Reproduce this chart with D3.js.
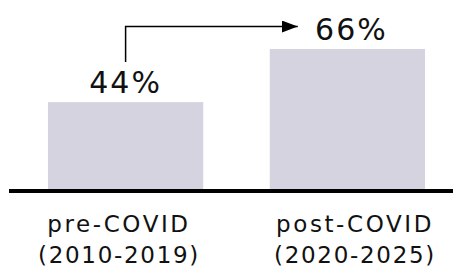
<!DOCTYPE html>
<html>
<head>
<meta charset="utf-8">
<script src="https://cdn.jsdelivr.net/npm/d3@7"></script>
<style>
  html, body { margin: 0; padding: 0; background: #fff; }
  svg { display: block; }
  text { font-family: "DejaVu Sans", sans-serif; fill: #111; }
</style>
</head>
<body>
<div id="chart"></div>
<script>
const categories = ['pre-COVID', 'post-COVID'];
const periods = ['(2010-2019)', '(2020-2025)'];
const values = [44, 66];

const width = 453, height = 269;
const baseY = 189;

const svg = d3.select('#chart').append('svg')
    .attr('width', width)
    .attr('height', height);

const x = d3.scaleBand()
    .domain(categories)
    .range([14.7, 458.3])
    .paddingInner(0.3)
    .paddingOuter(0.15);

// bars don't start from zero in the original
const y = d3.scaleLinear()
    .domain([8, 66])
    .range([baseY, 49]);

// label columns sit a little wider apart than the bars
const xLabel = d3.scalePoint()
    .domain(categories)
    .range([119, 355]);

svg.selectAll('rect.bar')
    .data(values)
    .enter()
    .append('rect')
    .attr('class', 'bar')
    .attr('x', (d, i) => x(categories[i]))
    .attr('y', (d) => y(d))
    .attr('width', x.bandwidth())
    .attr('height', (d) => baseY - y(d))
    .attr('fill', '#d4d3df');

svg.append('line')
    .attr('x1', 9)
    .attr('x2', width)
    .attr('y1', baseY + 2)
    .attr('y2', baseY + 2)
    .attr('stroke', '#000')
    .attr('stroke-width', 4);

svg.selectAll('text.value')
    .data(values)
    .enter()
    .append('text')
    .attr('class', 'value')
    .attr('x', (d, i) => x(categories[i]) + x.bandwidth() / 2 + (i === 1 ? 4 : 0))
    .attr('y', (d) => y(d) - 9)
    .attr('text-anchor', 'middle')
    .attr('font-size', '30px')
    .attr('letter-spacing', '2px')
    .text((d) => d + '%');

svg.selectAll('text.cat')
    .data(categories)
    .enter()
    .append('text')
    .attr('class', 'cat')
    .attr('x', (d) => xLabel(d))
    .attr('y', 232)
    .attr('text-anchor', 'middle')
    .attr('font-size', '23px')
    .attr('letter-spacing', '2.6px')
    .text((d) => d);

svg.selectAll('text.period')
    .data(periods)
    .enter()
    .append('text')
    .attr('class', 'period')
    .attr('x', (d, i) => xLabel(categories[i]))
    .attr('y', 263)
    .attr('text-anchor', 'middle')
    .attr('font-size', '23px')
    .attr('letter-spacing', '1.7px')
    .text((d) => d);

// elbow arrow from the first value label to the second
const defs = svg.append('defs');
defs.append('marker')
    .attr('id', 'head')
    .attr('viewBox', '0 0 16 12')
    .attr('refX', 16)
    .attr('refY', 6)
    .attr('markerWidth', 16)
    .attr('markerHeight', 12)
    .attr('markerUnits', 'userSpaceOnUse')
    .attr('orient', 'auto')
    .append('path')
    .attr('d', 'M0,0L16,6L0,12Z')
    .attr('fill', '#000');

const ax = x(categories[0]) + x.bandwidth() / 2;
const ay0 = y(values[0]) - 40;
const ay1 = y(values[1]) - 22.5;
const ax1 = x(categories[1]) + 28;

svg.append('path')
    .attr('d', `M${ax},${ay0}V${ay1}H${ax1}`)
    .attr('fill', 'none')
    .attr('stroke', '#000')
    .attr('stroke-width', 1.5)
    .attr('marker-end', 'url(#head)');
</script>
</body>
</html>
